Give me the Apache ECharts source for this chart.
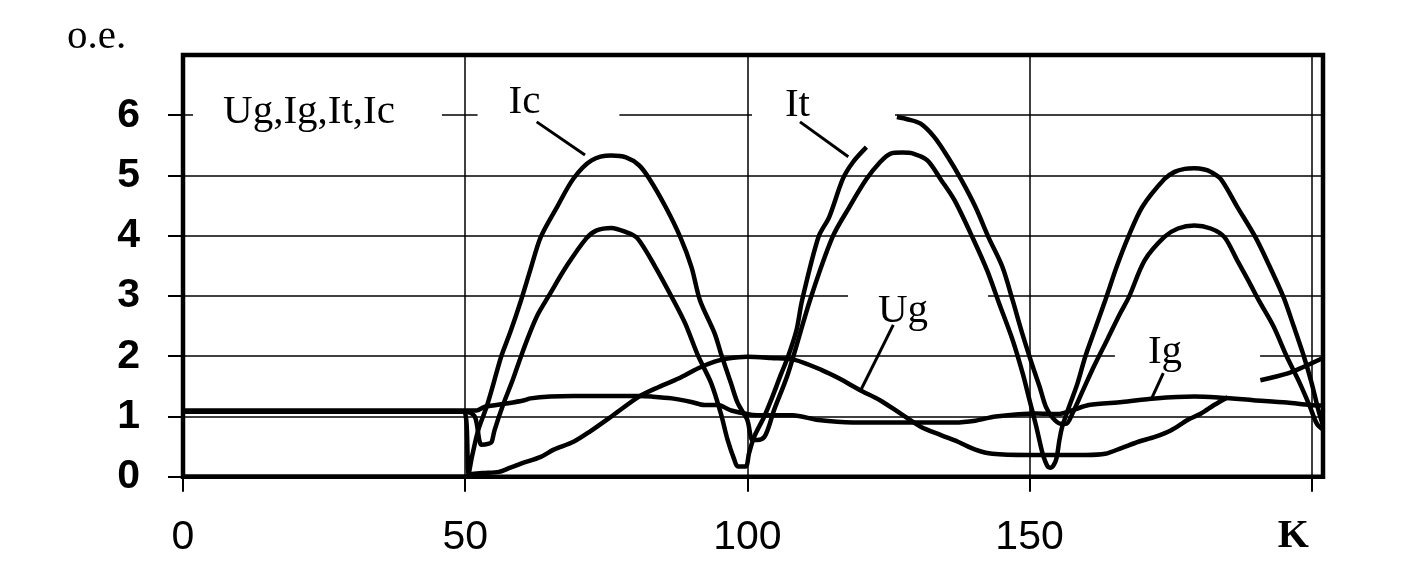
<!DOCTYPE html>
<html>
<head>
<meta charset="utf-8">
<script src="https://cdn.jsdelivr.net/npm/echarts@6/dist/echarts.min.js"></script>
<style>
  html, body { margin: 0; padding: 0; background: #fff; }
  #chart { width: 1402px; height: 576px; }
</style>
</head>
<body>
<div id="chart"></div>
<script>
// ---- data (K on x, o.e. on y) ----
const xTicks = [0, 50, 100, 150, 200];
const yTicks = [0, 1, 2, 3, 4, 5, 6];

const ugK = [0, 50, 51, 53, 56, 58, 60, 63.4, 65.7, 69.2, 72.1, 76.2, 80.8, 84.3, 87.8, 91.3, 94.2, 96.5, 100, 104.2, 108.4, 113.2, 116.3, 119.9, 123.5, 127.1, 130.7, 134.3, 137.3, 140.4, 143.4, 150, 160, 163.4, 166.4, 169.3, 172.2, 175.1, 178, 180.4, 182.7, 185.1, 188, 190.9, 195.6, 198.5, 202];
const ugV = [0, 0, 0.04, 0.06, 0.08, 0.15, 0.22, 0.33, 0.45, 0.58, 0.75, 1.02, 1.33, 1.49, 1.63, 1.8, 1.91, 1.96, 1.99, 1.97, 1.94, 1.77, 1.63, 1.44, 1.27, 1.05, 0.83, 0.69, 0.58, 0.45, 0.38, 0.36, 0.36, 0.38, 0.48, 0.58, 0.66, 0.77, 0.94, 1.05, 1.19, 1.32, null, 1.6, 1.71, 1.82, 1.97];

const igK = [0, 50, 52, 53.5, 57.6, 60.5, 61.6, 65.1, 69.2, 75, 80.8, 83.1, 86.6, 90.1, 92.4, 94.8, 97.1, 101.8, 108, 112.6, 118.7, 128.3, 136.7, 140.4, 144, 151.2, 155, 157.5, 160.5, 166.4, 172.2, 179.2, 183.9, 189.7, 195.6, 199.7, 202];
const igV = [1.1, 1.1, 1.1, 1.16, 1.22, 1.27, 1.3, 1.33, 1.34, 1.34, 1.34, 1.33, 1.3, 1.24, 1.19, 1.19, 1.1, 1.02, 1.02, 0.94, 0.9, 0.9, 0.9, 0.93, 1.0, 1.05, 1.04, 1.1, 1.19, 1.24, 1.3, 1.33, 1.31, 1.27, 1.23, 1.19, 1.18];

const icK = [0, 49.8, 50.6, 51.2, 52.3, 53.8, 54.7, 56.4, 58, 59.9, 61.6, 63.4, 66.3, 69.2, 72.4, 75.9, 78.5, 80.8, 82.6, 85.5, 88.1, 90.1, 91.6, 94.2, 95.3, 97.1, 98.3, 100, 100.9, 101.8, 103, 103.8, 104.7, 107.2, 111.1, 115.1, 118.1, 121.1, 123.5, 125.3, 127.4, 129.5, 131.9, 134.3, 136.7, 140, 142.5, 144.6, 147, 148.8, 150, 151.2, 152.3, 153.2, 153.8, 154.7, 155.3, 155.8, 157, 158.5, 159.9, 161.8, 163.5, 165.5, 167.5, 170, 173.9, 175.7, 177.5, 179.2, 181, 182.1, 183.9, 186.8, 190, 192.6, 195, 196.8, 198.6, 200, 201.2, 202];
const icV = [1.08, 1.08, 0.05, 0.33, 0.77, 1.16, 1.44, 2.0, 2.4, 2.93, 3.45, 3.98, 4.48, 4.95, 5.25, 5.33, 5.3, 5.17, 4.95, 4.48, 3.98, 3.48, 2.93, 2.38, 2.05, 1.55, 1.22, 0.94, 0.61, 0.61, 0.66, 0.83, 1.1, 1.71, 2.93, 3.98, 4.48, 4.94, 5.22, 5.36, 5.38, 5.36, 5.25, 4.93, 4.59, 3.95, 3.42, 2.88, 2.27, 1.71, 1.27, 0.83, 0.39, 0.17, 0.15, 0.28, 0.61, 0.83, 1.16, 1.55, 2.0, 2.5, 2.95, 3.5, 3.98, 4.48, 4.94, 5.06, 5.11, 5.12, 5.1, 5.06, 4.94, 4.48, 3.98, 3.48, 2.98, 2.5, 2.0, 1.55, 1.1, 0.85];

const itK = [0, 50, 51.7, 52.9, 54.2, 54.7, 55.2, 56.7, 58.4, 59.9, 61.3, 62.8, 64.8, 68, 71.5, 73.3, 75.9, 78.5, 80.5, 83.7, 86.9, 89, 91.3, 93.6, 95.3, 96.5, 97.7, 98.3, 99.7, 100.3, 101.2, 103, 104.2, 106, 107.2, 108.7, 109.7, 112.6, 114.5, 116.9, 118.7, 121.1, 123.5, 126.5, 128.5, 130.7, 133.1, 135.5, 137.9, 140.4, 142.8, 145.2, 147, 148.8, 150.6, 151.8, 152.9, 154.1, 155.5, 156.5, 157.6, 159.4, 161.5, 163.9, 166, 167.6, 170.4, 173.9, 176.3, 179.2, 182.1, 184.5, 186.8, 188.8, 190.6, 193.2, 195.6, 197.9, 199.7, 200.9, 202];
const itV = [1.08, 1.08, 1.0, 0.53, 0.55, 0.58, 0.77, 1.19, 1.6, 2.0, 2.35, 2.68, 3.0, 3.5, 3.96, 4.09, 4.13, 4.06, 3.96, 3.48, 2.93, 2.54, 2.0, 1.55, 1.05, 0.61, 0.28, 0.17, 0.17, 0.39, 0.66, 1.0, 1.27, 1.71, 1.99, 2.43, 2.93, 3.98, 4.31, 4.94, 5.22, 5.47, null, 5.97, 5.93, 5.86, 5.64, 5.31, 4.93, 4.48, 3.96, 3.48, 2.93, 2.35, 1.82, 1.49, 1.16, 0.98, 0.88, 0.88, 1.05, 1.42, 1.85, 2.3, 2.7, 2.98, 3.59, 3.98, 4.12, 4.17, 4.12, 3.98, 3.59, 3.25, 2.93, 2.5, 1.99, 1.55, 1.16, 0.88, 0.78];

// ---- annotations (text, anchor in data units, leader line ends) ----
const labelTexts = ['Ug,Ig,It,Ic', 'Ic', 'It', 'Ug', 'Ig'];
const labelAnchors = [[23.83, 6.045], [64.76, 6.21], [113.49, 6.17], [130.24, 2.75], [177.99, 2.07]];
const labelPads = [[4, 47, 4, 30], [4, 79, 4, 31], [4, 85, 4, 33], [4, 60, 4, 30], [4, 78, 4, 33]];
const leaders = [
  [[62.67, 5.89], [71.23, 5.34]],
  [[109.33, 5.89], [117.89, 5.31]],
  [[125.86, 2.52], [119.96, 1.41]],
  [[173.7, 1.72], [171.64, 1.30]]
];

function pairs(k, v) { return k.map((x, i) => [x, v[i] === null ? '-' : v[i]]); }

const curveStyle = { color: '#000', width: 4.5 };
function curve(name, k, v) {
  return {
    name: name, type: 'line', data: pairs(k, v), showSymbol: false, symbol: 'none',
    smooth: 0.3, connectNulls: false, lineStyle: curveStyle, z: 3
  };
}

const series = [
  curve('Ug', ugK, ugV),
  curve('Ig', igK, igV),
  curve('Ic', icK, icV),
  curve('It', itK, itV),
  {
    type: 'scatter', z: 1, symbol: 'circle', symbolSize: 1, silent: true, clip: false,
    itemStyle: { color: 'rgba(255,255,255,0)', opacity: 1 },
    data: labelTexts.map((t, i) => ({
      value: labelAnchors[i],
      label: {
        show: true, position: 'inside', formatter: t, opacity: 1,
        fontFamily: 'Liberation Serif', fontSize: 41, color: '#000',
        backgroundColor: '#fff', padding: labelPads[i]
      }
    }))
  }
];
leaders.forEach(seg => series.push({
  type: 'line', data: seg, showSymbol: false, symbol: 'none', z: 4,
  lineStyle: { color: '#000', width: 3 }
}));

const chart = echarts.init(document.getElementById('chart'), null, { renderer: 'canvas' });
chart.setOption({
  animation: false,
  backgroundColor: '#fff',
  title: {
    text: 'o.e.', left: 67, top: 17, padding: 0,
    textStyle: { fontFamily: 'Liberation Serif', fontSize: 41, fontWeight: 'normal', color: '#000' }
  },
  grid: { left: 183, right: 79, top: 55, bottom: 99.3, show: true, borderColor: '#000', borderWidth: 4.5 },
  xAxis: {
    type: 'value', min: 0, max: 202, interval: 50,
    axisLine: { show: false },
    axisTick: { show: true, inside: false, length: 15, customValues: xTicks, lineStyle: { color: '#000', width: 2 } },
    axisLabel: {
      customValues: xTicks, margin: 40, color: '#000',
      fontFamily: 'Liberation Sans', fontSize: 41,
      formatter: v => v === 200 ? '{k|K}' : String(v),
      rich: { k: { fontFamily: 'Liberation Serif', fontWeight: 'bold', fontSize: 40, color: '#000', padding: [0, 37, 0, 0] } }
    },
    splitLine: { show: true, lineStyle: { color: '#000', width: 1.5 } }
  },
  yAxis: {
    type: 'value', min: 0, max: 7, interval: 1,
    axisLine: { show: false },
    axisTick: { show: true, inside: false, length: 15, customValues: yTicks, lineStyle: { color: '#000', width: 2 } },
    axisLabel: {
      customValues: yTicks, margin: 43, color: '#000',
      fontFamily: 'Liberation Sans', fontWeight: 'bold', fontSize: 41,
      formatter: v => v === 7 ? '' : String(v)
    },
    splitLine: { show: true, lineStyle: { color: '#000', width: 1.5 } }
  },
  series: series
});
</script>
</body>
</html>
